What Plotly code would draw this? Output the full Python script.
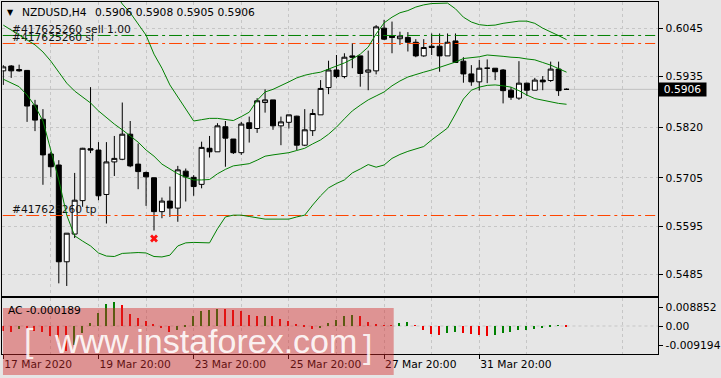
import plotly.graph_objects as go

# ---------------- data ----------------
bar_index = list(range(72))

opens = [0.5948, 0.5959, 0.5951, 0.5949, 0.5870, 0.5838, 0.5759, 0.5734, 0.5514, 0.5577,
         0.5653, 0.5771, 0.5768, 0.5667, 0.5741, 0.5747, 0.5804, 0.5736, 0.5717, 0.5705,
         0.5628, 0.5652, 0.5636, 0.5720, 0.5706, 0.5690, 0.5772, 0.5764, 0.5821, 0.5793,
         0.5762, 0.5830, 0.5817, 0.5876, 0.5882, 0.5823, 0.5831, 0.5845, 0.5779, 0.5812,
         0.5848, 0.5910, 0.5950, 0.5935, 0.5982, 0.5982, 0.5945, 0.5948, 0.6045, 0.6027,
         0.6021, 0.6024, 0.6013, 0.5982, 0.6004, 0.6004, 0.5982, 0.6016, 0.5970, 0.5941,
         0.5923, 0.5954, 0.5954, 0.5950, 0.5904, 0.5886, 0.5920, 0.5904, 0.5927, 0.5926,
         0.5952, 0.5906]
highs = [0.5961, 0.5961, 0.5962, 0.5950, 0.5882, 0.5861, 0.5764, 0.5745, 0.5579, 0.5716,
         0.5773, 0.5911, 0.5786, 0.5786, 0.5800, 0.5876, 0.5834, 0.5783, 0.5719, 0.5705,
         0.5660, 0.5685, 0.5732, 0.5726, 0.5711, 0.5787, 0.5800, 0.5829, 0.5834, 0.5793,
         0.5832, 0.5844, 0.5886, 0.5906, 0.5882, 0.5844, 0.5848, 0.5846, 0.5861, 0.5861,
         0.5927, 0.5971, 0.5984, 0.5988, 0.6011, 0.5982, 0.5994, 0.6052, 0.6064, 0.6060,
         0.6037, 0.6036, 0.6020, 0.6020, 0.6033, 0.6033, 0.6033, 0.6033, 0.5979, 0.5961,
         0.5973, 0.5974, 0.5954, 0.5952, 0.5911, 0.5970, 0.5921, 0.5932, 0.5936, 0.5969,
         0.5969, 0.5908]
lows = [0.5916, 0.5932, 0.5946, 0.5832, 0.5811, 0.5689, 0.5707, 0.5465, 0.5459, 0.5568,
        0.5639, 0.5761, 0.5654, 0.5601, 0.5709, 0.5745, 0.5729, 0.5679, 0.5641, 0.5585,
        0.5613, 0.5616, 0.5605, 0.5651, 0.5664, 0.5681, 0.5751, 0.5764, 0.5730, 0.5759,
        0.5757, 0.5785, 0.5807, 0.5853, 0.5814, 0.5779, 0.5817, 0.5768, 0.5777, 0.5800,
        0.5848, 0.5895, 0.5931, 0.5931, 0.5954, 0.5912, 0.5904, 0.5940, 0.6018, 0.5988,
        0.6007, 0.5992, 0.5979, 0.5980, 0.5984, 0.5946, 0.5982, 0.5967, 0.5921, 0.5914,
        0.5903, 0.5920, 0.5927, 0.5874, 0.5882, 0.5882, 0.5891, 0.5904, 0.5904, 0.5923,
        0.5891, 0.5905]
closes = [0.5957, 0.5948, 0.5948, 0.5868, 0.5836, 0.5757, 0.5730, 0.5514, 0.5579, 0.5654,
          0.5772, 0.5768, 0.5664, 0.5741, 0.5749, 0.5804, 0.5732, 0.5719, 0.5707, 0.5628,
          0.5652, 0.5636, 0.5723, 0.5707, 0.5685, 0.5774, 0.5764, 0.5823, 0.5795, 0.5762,
          0.5827, 0.5817, 0.5880, 0.5882, 0.5823, 0.5832, 0.5848, 0.5779, 0.5814, 0.5851,
          0.5908, 0.5950, 0.5935, 0.5979, 0.5979, 0.5942, 0.5950, 0.6048, 0.6020, 0.6024,
          0.6027, 0.6013, 0.5982, 0.6001, 0.6001, 0.5982, 0.6013, 0.5967, 0.5941, 0.5923,
          0.5954, 0.5954, 0.5946, 0.5903, 0.5888, 0.5920, 0.5904, 0.5927, 0.5923, 0.5952,
          0.5903, 0.5906]

bb_upper = [0.6175, 0.6161, 0.6147, 0.6143, 0.6145, 0.6148, 0.6173, 0.6191, 0.6220, 0.6232,
            0.6216, 0.6200, 0.6180, 0.6155, 0.6128, 0.6100, 0.6080, 0.6054, 0.6029, 0.5986,
            0.5954, 0.5916, 0.5889, 0.5859, 0.5834, 0.5837, 0.5840, 0.5840, 0.5837, 0.5835,
            0.5844, 0.5854, 0.5881, 0.5900, 0.5906, 0.5914, 0.5923, 0.5932, 0.5938, 0.5942,
            0.5945, 0.5952, 0.5959, 0.5966, 0.5975, 0.5986, 0.6002, 0.6032, 0.6057, 0.6070,
            0.6080, 0.6085, 0.6093, 0.6098, 0.6101, 0.6102, 0.6102, 0.6089, 0.6070, 0.6059,
            0.6053, 0.6051, 0.6052, 0.6056, 0.6058, 0.6061, 0.6061, 0.6056, 0.6045, 0.6037,
            0.6028, 0.6019]
bb_middle = [0.6052, 0.6041, 0.6029, 0.6018, 0.6007, 0.5991, 0.5970, 0.5945, 0.5920, 0.5902,
             0.5889, 0.5875, 0.5857, 0.5841, 0.5827, 0.5814, 0.5800, 0.5786, 0.5768, 0.5754,
             0.5736, 0.5725, 0.5714, 0.5706, 0.5700, 0.5700, 0.5701, 0.5714, 0.5724, 0.5732,
             0.5735, 0.5737, 0.5745, 0.5754, 0.5757, 0.5759, 0.5762, 0.5767, 0.5772, 0.5782,
             0.5791, 0.5804, 0.5820, 0.5839, 0.5857, 0.5870, 0.5882, 0.5891, 0.5900, 0.5914,
             0.5925, 0.5934, 0.5940, 0.5945, 0.5950, 0.5956, 0.5962, 0.5968, 0.5976, 0.5978,
             0.5980, 0.5984, 0.5983, 0.5981, 0.5979, 0.5978, 0.5975, 0.5973, 0.5967, 0.5961,
             0.5953, 0.5945]
bb_lower = [0.5929, 0.5920, 0.5912, 0.5893, 0.5868, 0.5834, 0.5768, 0.5700, 0.5620, 0.5573,
            0.5561, 0.5550, 0.5534, 0.5527, 0.5526, 0.5533, 0.5534, 0.5535, 0.5534, 0.5526,
            0.5525, 0.5529, 0.5550, 0.5557, 0.5558, 0.5558, 0.5557, 0.5589, 0.5616, 0.5620,
            0.5620, 0.5617, 0.5614, 0.5611, 0.5611, 0.5611, 0.5611, 0.5616, 0.5620, 0.5643,
            0.5664, 0.5682, 0.5692, 0.5700, 0.5716, 0.5725, 0.5735, 0.5729, 0.5734, 0.5749,
            0.5758, 0.5765, 0.5770, 0.5776, 0.5791, 0.5804, 0.5818, 0.5850, 0.5884, 0.5904,
            0.5911, 0.5915, 0.5916, 0.5914, 0.5911, 0.5903, 0.5893, 0.5885, 0.5881, 0.5877,
            0.5874, 0.5872]

ac_values = [-0.002109, -0.002479, -0.001221, -0.001295, -0.002109, -0.002220, -0.003959,
             -0.006401, -0.009194, -0.007030, -0.002701, 0.000999, 0.004699, 0.008140,
             0.008852, 0.007770, 0.004440, 0.002849, 0.001591, 0.000629, -0.000851,
             -0.002479, -0.001480, -0.000259, 0.003700, 0.005291, 0.005661, 0.006179,
             0.006031, 0.005661, 0.005291, 0.004070, 0.003441, 0.003700, 0.003441,
             0.002479, 0.001591, 0.000370, -0.000481, -0.001221, -0.000740, 0.000999,
             0.002220, 0.003441, 0.004070, 0.003441, 0.001221, 0.000370, 0.000148,
             0.000074, 0.000999, 0.001221, 0.000111, -0.001739, -0.002960, -0.003330,
             -0.002701, -0.002479, -0.002701, -0.002960, -0.003589, -0.003700, -0.003330,
             -0.002701, -0.002479, -0.001739, -0.001480, -0.001221, -0.000851, -0.000296,
             -0.000037, -0.000189]

price_ticks = [0.6045, 0.5935, 0.5820, 0.5705, 0.5595, 0.5485]
price_tick_text = ["0.6045", "0.5935", "0.5820", "0.5705", "0.5595", "0.5485"]

time_tick_pos = [0, 12, 24, 36, 48, 60]
time_tick_text = ["17 Mar 2020", "19 Mar 20:00", "23 Mar 20:00", "25 Mar 20:00",
                  "27 Mar 20:00", "31 Mar 20:00"]

ac_tick_pos = [0.00692, 0.0, -0.00703]
ac_tick_text = ["0.008852", "0.00", "-0.009194"]

order_id = "#417625260"
sell_price = 0.60284
sl_price = 0.60102
tp_price = 0.56192
bid_price = 0.5906
close_mark_bar = [19]
close_mark_price = [0.5567]

symbol_name = "NZDUSD,H4"
ohlc_text = "0.5906\u00a00.5908\u00a00.5905\u00a00.5906"
ac_title = "AC -0.000189"

# ---------------- styling ----------------
W, H = 721, 378
BG = "#e6e6e6"
GRID = "#c6c6c6"
GREEN = "#008000"
ORANGE = "#ff4500"
FONT = dict(family="DejaVu Sans", size=10.7, color="#000000")
DASH_PATTERN_PX = [13, 4, 3, 4]   # dash, gap, dot, gap
PX_PER_BAR = 8


def px_x(p):
    return p / W


def px_y(p):
    return 1 - p / H


main_dom = [px_y(295.7), px_y(2)]
ac_dom = [px_y(354), px_y(298.3)]
x_dom = [px_x(2.5), px_x(664)]
x_rng = [(2.5 - 3.3) / PX_PER_BAR, (664 - 3.3) / PX_PER_BAR]
line_end = x_rng[0] + (x_rng[1] - x_rng[0]) * 0.995


def dashdot_segments(x_start, x_stop, level):
    """Solid pieces forming an MT4-style dash-dot pattern along a horizontal level."""
    xs, ys = [], []
    x, k = x_start, 0
    while x < x_stop:
        step = DASH_PATTERN_PX[k % len(DASH_PATTERN_PX)] / PX_PER_BAR
        if k % 2 == 0:
            xs += [x, min(x + step, x_stop), None]
            ys += [level, level, None]
        x += step
        k += 1
    return xs, ys


fig = go.Figure()

# order lines and their labels (drawn under the candles)
for price, color in ((sell_price, GREEN), (sl_price, ORANGE), (tp_price, ORANGE)):
    sx, sy = dashdot_segments(x_rng[0], line_end, price)
    fig.add_trace(go.Scatter(x=sx, y=sy, mode="lines", connectgaps=False,
                             line=dict(color=color, width=1),
                             hoverinfo="skip", showlegend=False, xaxis="x", yaxis="y"))

fig.add_trace(go.Scatter(
    x=[1.1, 1.1, 1.1], y=[sell_price, sl_price, tp_price], mode="text",
    text=[order_id + " sell 1.00", order_id + " sl", order_id + " tp"],
    textposition="top right", textfont=dict(family="DejaVu Sans", size=10.7, color="#111111"),
    hoverinfo="skip", showlegend=False, cliponaxis=False, xaxis="x", yaxis="y"))

fig.add_trace(go.Candlestick(
    x=bar_index, open=opens, high=highs, low=lows, close=closes,
    increasing=dict(line=dict(color="black", width=1), fillcolor="white"),
    decreasing=dict(line=dict(color="black", width=1), fillcolor="black"),
    whiskerwidth=0, showlegend=False, hoverinfo="skip", xaxis="x", yaxis="y"))

for band in (bb_upper, bb_middle, bb_lower):
    fig.add_trace(go.Scatter(x=bar_index, y=band, mode="lines",
                             line=dict(color=GREEN, width=1), hoverinfo="skip",
                             showlegend=False, xaxis="x", yaxis="y"))

fig.add_trace(go.Scatter(x=close_mark_bar, y=close_mark_price, mode="markers",
                         marker=dict(symbol="x", size=7, color="#ff1010", line=dict(width=0)),
                         hoverinfo="skip", showlegend=False, xaxis="x", yaxis="y"))

ac_colors = []
for i, v in enumerate(ac_values):
    ac_colors.append(GREEN if i > 0 and v > ac_values[i - 1] else "#ee0000")

fig.add_trace(go.Bar(x=bar_index, y=ac_values, width=0.14,
                     marker=dict(color=ac_colors, line=dict(width=0)),
                     hoverinfo="skip", showlegend=False, xaxis="x2", yaxis="y2"))

shapes = [
    dict(type="line", xref="x domain", yref="y", x0=0, x1=1, y0=bid_price, y1=bid_price,
         line=dict(color="#c0c0c0", width=1), layer="below"),
    dict(type="line", xref="x2 domain", yref="y2", x0=0, x1=1, y0=0, y1=0,
         line=dict(color=GRID, width=1, dash="3px,3px"), layer="below"),
    # watermark band
    dict(type="rect", xref="paper", yref="paper", x0=px_x(3), x1=px_x(397),
         y0=px_y(375), y1=px_y(308), fillcolor="rgba(212,40,40,0.44)",
         line=dict(width=0), layer="above"),
]

annotations = [
    dict(text="\u25bc", x=px_x(11), y=px_y(12.5), xref="paper", yref="paper",
         showarrow=False, xanchor="center", yanchor="middle",
         font=dict(family="DejaVu Sans", size=8, color="black")),
    dict(text=symbol_name, x=px_x(20), y=px_y(12.8), xref="paper", yref="paper",
         showarrow=False, xanchor="left", yanchor="middle", font=FONT),
    dict(text=ohlc_text, x=px_x(94), y=px_y(12.8), xref="paper", yref="paper",
         showarrow=False, xanchor="left", yanchor="middle", font=FONT),
    dict(text=ac_title, x=px_x(6), y=px_y(310), xref="paper", yref="paper",
         showarrow=False, xanchor="left", yanchor="middle", font=FONT),
    dict(text=f"{bid_price:.4f}", x=px_x(664), y=bid_price,
         xref="paper", yref="y", showarrow=False, xanchor="left", yanchor="middle",
         bgcolor="black", width=47, height=13, borderpad=0,
         font=dict(family="DejaVu Sans", size=10.7, color="white")),
    dict(text="[", x=px_x(29), y=px_y(340), xref="paper", yref="paper", showarrow=False,
         xanchor="center", yanchor="middle",
         font=dict(family="Liberation Sans", size=34, color="rgba(255,255,255,0.85)")),
    dict(text="www.instaforex.com", x=px_x(207), y=px_y(341), xref="paper", yref="paper",
         showarrow=False, xanchor="center", yanchor="middle",
         font=dict(family="Liberation Sans", size=34, color="rgba(255,255,255,0.9)")),
    dict(text="]", x=px_x(371), y=px_y(346), xref="paper", yref="paper", showarrow=False,
         xanchor="center", yanchor="middle",
         font=dict(family="Liberation Sans", size=34, color="rgba(255,255,255,0.85)")),
]

fig.update_layout(
    width=W, height=H, margin=dict(l=0, r=0, t=0, b=0),
    paper_bgcolor=BG, plot_bgcolor=BG, showlegend=False,
    boxgap=0.375, boxgroupgap=0, bargap=0,
    shapes=shapes, annotations=annotations,
    xaxis=dict(domain=x_dom, range=x_rng, anchor="y", tickmode="array",
               tickvals=list(range(0, 84, 6)), showticklabels=False, ticks="",
               showgrid=True, gridcolor=GRID, griddash="3px,3px", gridwidth=1,
               zeroline=False, showline=True, mirror=True, linecolor="black", linewidth=1,
               rangeslider=dict(visible=False), fixedrange=True),
    yaxis=dict(domain=main_dom, range=[0.54369, 0.61045], anchor="x", side="right",
               tickmode="array", tickvals=price_ticks, ticktext=price_tick_text,
               ticks="outside", ticklen=4, tickcolor="black", tickfont=FONT,
               showgrid=True, gridcolor=GRID, griddash="3px,3px", zeroline=False,
               showline=True, mirror=True, linecolor="black", linewidth=1, fixedrange=True),
    xaxis2=dict(domain=x_dom, range=x_rng, anchor="y2", tickmode="array",
                tickvals=time_tick_pos, ticktext=time_tick_text, ticks="outside", ticklen=4,
                tickcolor="black", tickfont=FONT, ticklabelposition="outside right",
                showgrid=True, gridcolor=GRID, griddash="3px,3px",
                minor=dict(tickmode="array", tickvals=list(range(6, 84, 12)), showgrid=True,
                           gridcolor=GRID, griddash="3px,3px", ticks=""),
                zeroline=False, showline=True, mirror=True, linecolor="black", linewidth=1,
                fixedrange=True),
    yaxis2=dict(domain=ac_dom, range=[-0.01036, 0.01025], anchor="x2", side="right",
                tickmode="array", tickvals=ac_tick_pos, ticktext=ac_tick_text,
                ticks="outside", ticklen=4, tickcolor="black", tickfont=FONT,
                showgrid=False, zeroline=False, showline=True, mirror=True,
                linecolor="black", linewidth=1, fixedrange=True),
)

fig.write_html("out.html")
